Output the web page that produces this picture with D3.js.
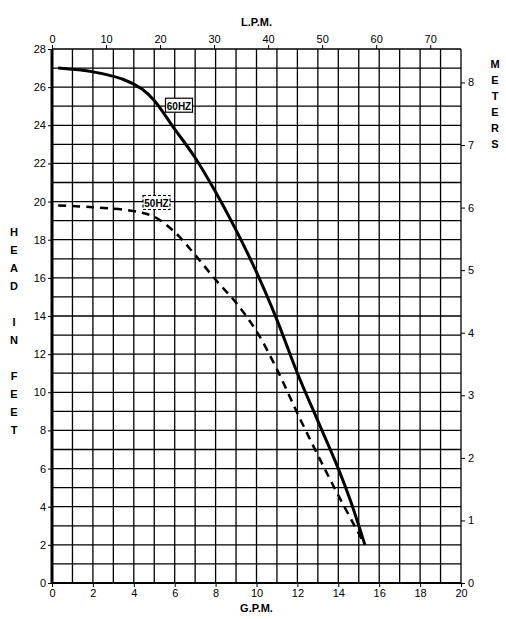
<!DOCTYPE html><html><head><script src="https://cdn.jsdelivr.net/npm/d3@7"></script>
<style>body{margin:0;background:#fff}text{font-family:"Liberation Sans",Arial,sans-serif}</style></head><body>
<svg id="c" width="506" height="619"></svg>
<script>
const gpmTicks=[0,2,4,6,8,10,12,14,16,18,20];
const feetTicks=[0,2,4,6,8,10,12,14,16,18,20,22,24,26,28];
const lpmTicks=[0,10,20,30,40,50,60,70];
const meterTicks=[0,1,2,3,4,5,6,7,8];
const hz60=[[0.3,27],[2,26.8],[3.5,26.4],[4.4,25.9],[5,25.3],[6,23.8],[7,22.3],[8,20.5],[9,18.5],[10,16.3],[11,13.8],[12,11],[13,8.5],[14,6],[14.6,4.3],[15.3,2]];
const hz50=[[0.3,19.8],[2,19.7],[4,19.5],[5,19.2],[6,18.4],[7,17.2],[8,15.9],[9,14.7],[10,13.2],[11,11.2],[12,8.9],[13,6.7],[14,4.6],[15.3,2]];
const svg=d3.select("#c");
const L=52,R=461,T=49,B=583;
const x=d3.scaleLinear([0,20],[L,R]), y=d3.scaleLinear([0,28],[B,T]);
const xl=d3.scaleLinear([0,20*3.785],[L,R]), ym=d3.scaleLinear([0,28*0.3048],[B,T]);
const g=svg.append("g");
g.selectAll(".v").data(d3.range(0,21)).join("line").attr("x1",d=>x(d)).attr("x2",d=>x(d)).attr("y1",T).attr("y2",B).attr("stroke","#000").attr("stroke-width",1.3);
g.selectAll(".h").data(d3.range(0,29)).join("line").attr("y1",d=>y(d)).attr("y2",d=>y(d)).attr("x1",L).attr("x2",R).attr("stroke","#000").attr("stroke-width",1.3);
g.append("line").attr("x1",L).attr("x2",L).attr("y1",T).attr("y2",B).attr("stroke","#000").attr("stroke-width",3);
g.append("line").attr("x1",L).attr("x2",R).attr("y1",B).attr("y2",B).attr("stroke","#000").attr("stroke-width",2);
function ax(a){a.select(".domain").remove();a.selectAll("text").attr("font-size",11).attr("font-family","Liberation Sans,Arial").attr("fill","#000");a.selectAll("line").attr("stroke","#000");}
svg.append("g").attr("transform",`translate(0,${B})`).call(d3.axisBottom(x).tickValues(gpmTicks).tickSize(4).tickPadding(2)).call(ax);
svg.append("g").attr("transform",`translate(${L},0)`).call(d3.axisLeft(y).tickValues(feetTicks).tickSize(4).tickPadding(2)).call(ax);
svg.append("g").attr("transform",`translate(0,${T})`).call(d3.axisTop(xl).tickValues(lpmTicks).tickSize(4).tickPadding(2)).call(ax);
svg.append("g").attr("transform",`translate(${R},0)`).call(d3.axisRight(ym).tickValues(meterTicks).tickSize(4).tickPadding(3)).call(ax);
const line=d3.line().x(d=>x(d[0])).y(d=>y(d[1])).curve(d3.curveCatmullRom);
svg.append("path").attr("d",line(hz60)).attr("fill","none").attr("stroke","#000").attr("stroke-width",3);
svg.append("path").attr("d",line(hz50)).attr("fill","none").attr("stroke","#000").attr("stroke-width",2.5).attr("stroke-dasharray","8,6");
function lab(t,gx,gy,dash){const px=x(gx),py=y(gy);
svg.append("rect").attr("x",px).attr("y",py-8).attr("width",27).attr("height",14).attr("fill","#fff").attr("stroke","#000").attr("stroke-width",1.2).attr("stroke-dasharray",dash?"3,2":null);
svg.append("text").attr("x",px+13.5).attr("y",py+3.5).attr("text-anchor","middle").attr("font-size",10).attr("font-weight","bold").text(t);}
lab("60HZ",5.55,25,false);lab("50HZ",4.45,19.9,true);
svg.append("text").attr("x",(L+R)/2).attr("y",612).attr("text-anchor","middle").attr("font-size",11).attr("font-weight","bold").text("G.P.M.");
svg.append("text").attr("x",(L+R)/2).attr("y",26).attr("text-anchor","middle").attr("font-size",11).attr("font-weight","bold").text("L.P.M.");
const left=["H","E","A","D","","I","N","","F","E","E","T"];
left.forEach((c,i)=>svg.append("text").attr("x",14).attr("y",236+i*18).attr("text-anchor","middle").attr("font-size",11).attr("font-weight","bold").text(c));
["M","E","T","E","R","S"].forEach((c,i)=>svg.append("text").attr("x",495).attr("y",68+i*16).attr("text-anchor","middle").attr("font-size",11).attr("font-weight","bold").text(c));
</script></body></html>
